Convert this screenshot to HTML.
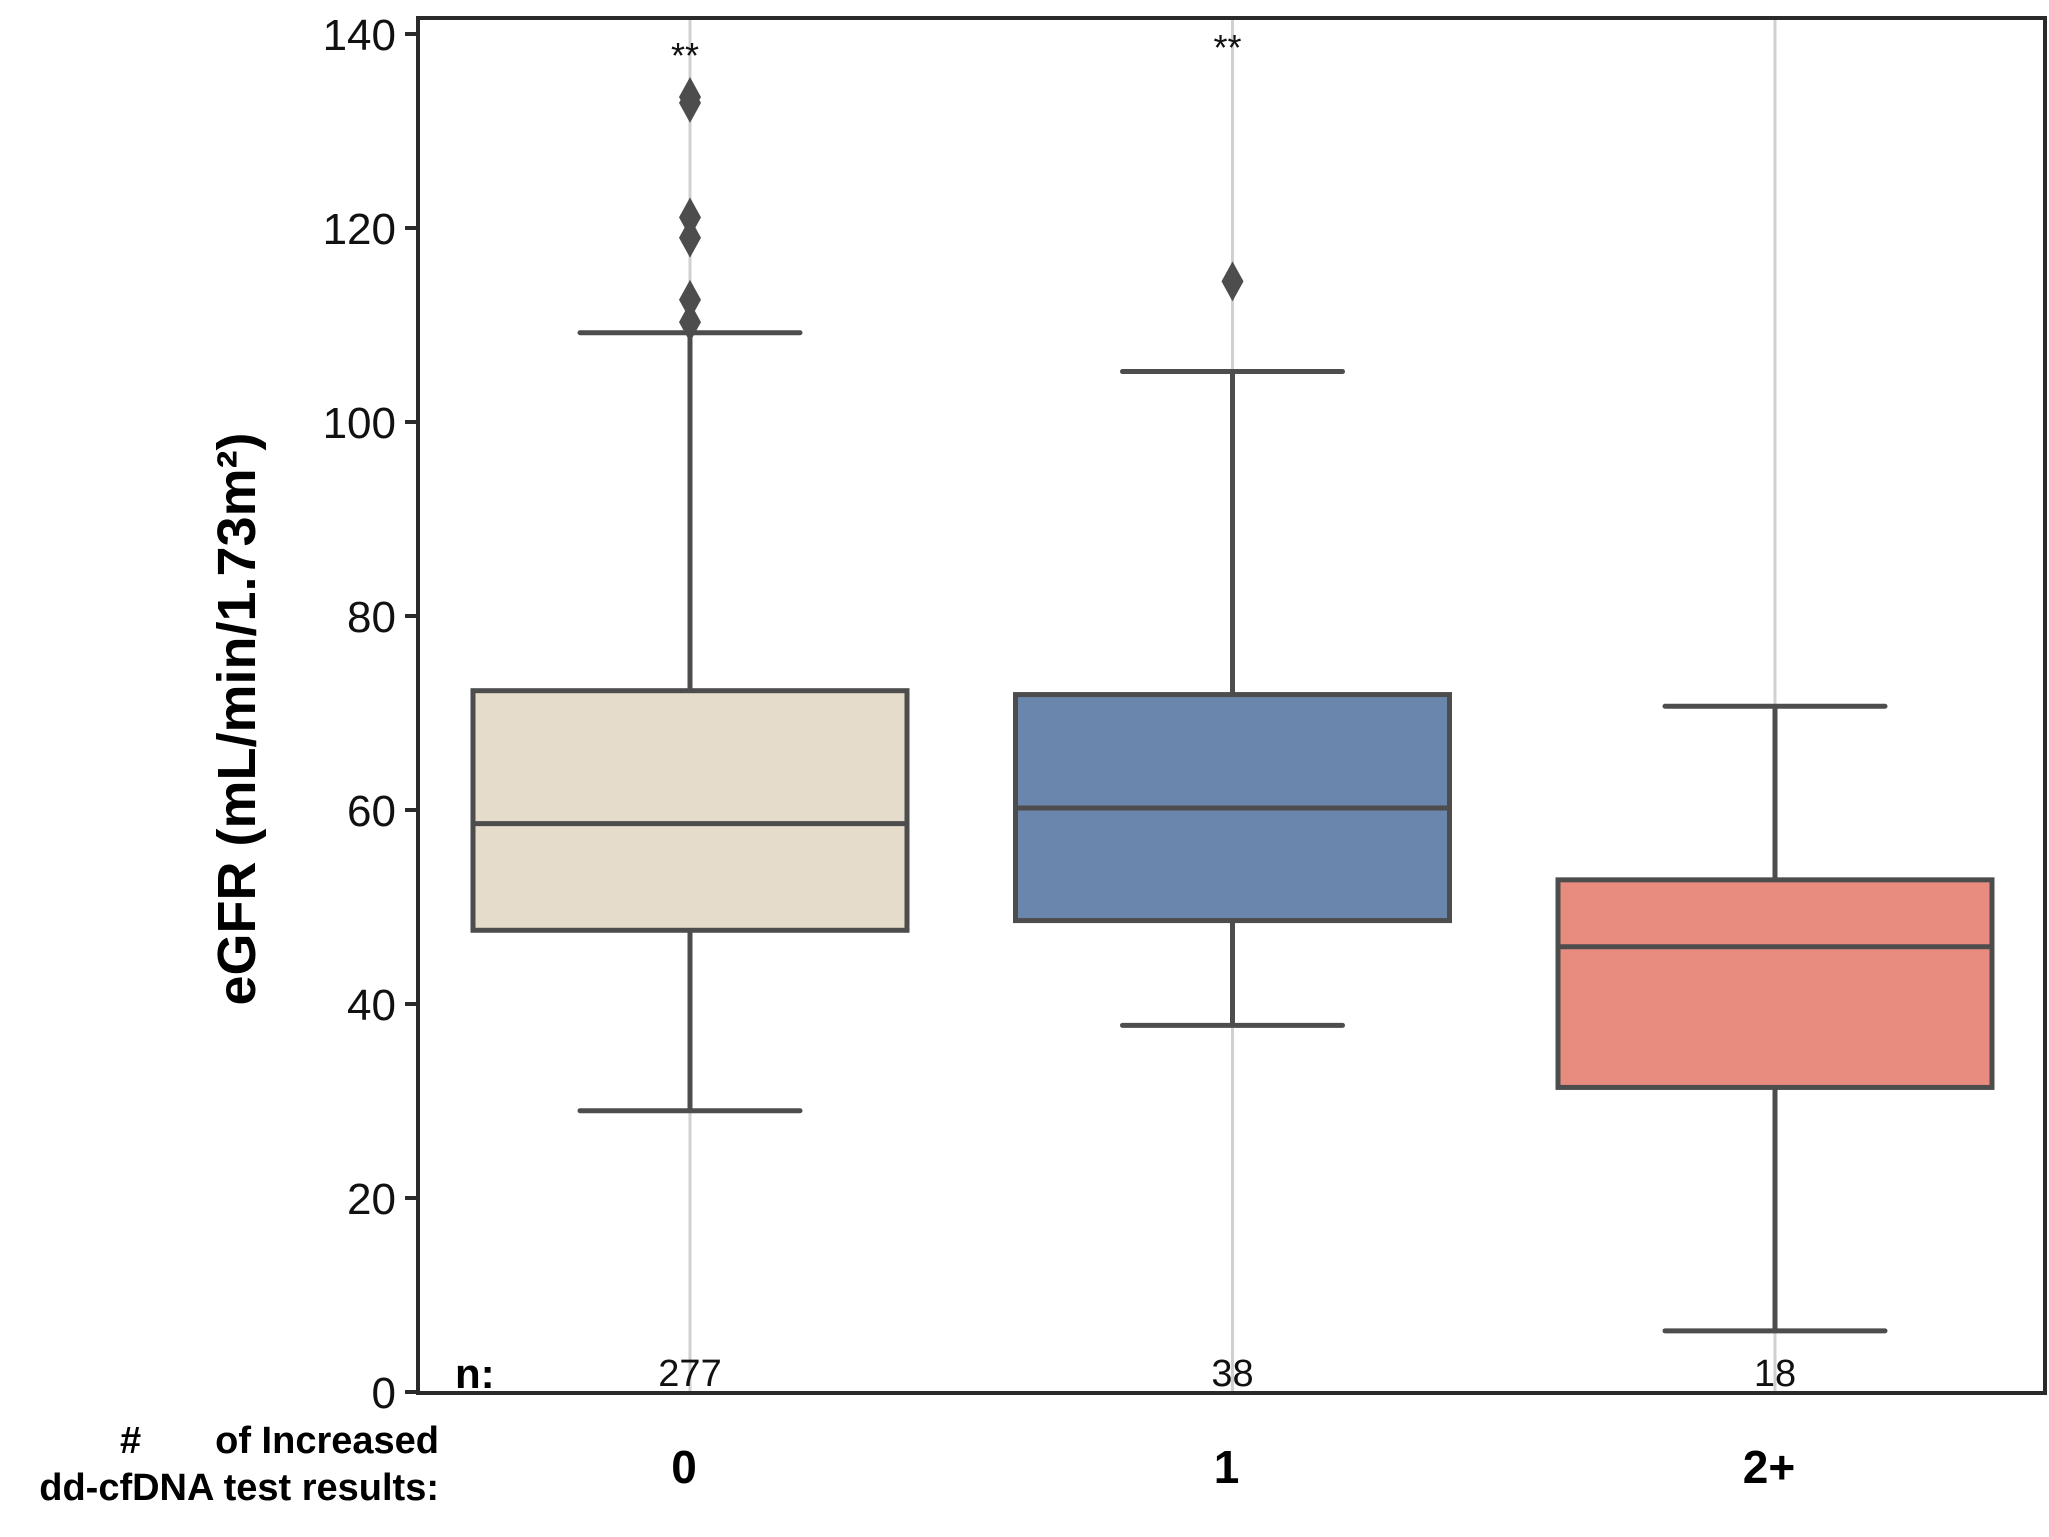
<!DOCTYPE html>
<html><head><meta charset="utf-8"><style>
html,body{margin:0;padding:0;background:#fff;}
svg{display:block;font-family:"Liberation Sans",sans-serif;}
</style></head><body>
<svg id="chart" width="2049" height="1537" viewBox="0 0 2049 1537">
<g id="grid"></g><g id="boxes"></g><g id="axes"></g><g id="labels"></g>
</svg>
<script>
const categories = ["0","1","2+"];
const counts = ["277","38","18"];
const q1 = [47.6, 48.6, 31.4];
const medians = [58.6, 60.2, 45.9];
const q3 = [72.3, 71.9, 52.8];
const whiskerLow = [29.0, 37.8, 6.3];
const whiskerHigh = [109.2, 105.2, 70.7];
const outliers0 = [133.5, 132.9, 121.1, 119.0, 112.6, 110.3];
const outliers1 = [114.5];
const outliers2 = [];
const yTicks = [0, 20, 40, 60, 80, 100, 120, 140];
const significance = ["**", "**", ""];
const colors = ["#e5dccb", "#6b86ad", "#e88c80"];

const NS = "http://www.w3.org/2000/svg";
const plotL = 418, plotR = 2045, plotT = 18, plotB = 1393;
const y0px = 1392, yPer = 9.7;
function yScale(v){ return y0px - v * yPer; }
function xScale(i){ return 690 + i * 542.5; }
const boxHalf = 217, capHalf = 110, line = "#4d4d4d";

function mk(tag, attrs, parent, text){
  const e = document.createElementNS(NS, tag);
  for (const k in attrs) e.setAttribute(k, attrs[k]);
  if (text !== undefined) e.textContent = text;
  parent.appendChild(e); return e;
}
const grid = document.getElementById("grid"), boxes = document.getElementById("boxes"),
      axes = document.getElementById("axes"), labels = document.getElementById("labels");

const allOut = [outliers0, outliers1, outliers2];
categories.forEach((c, i) => {
  const x = xScale(i);
  const g = mk("line", {x1:x, x2:x, y1:plotT, y2:plotB, stroke:"#d0d0d0", "stroke-width":3}, grid);
  
  
  const grp = mk("g", {}, boxes);
  
  
  const w1 = mk("line", {x1:x, x2:x, y1:yScale(q3[i]), y2:yScale(whiskerHigh[i]), stroke:line, "stroke-width":5}, grp);
  
  
  const w2 = mk("line", {x1:x, x2:x, y1:yScale(q1[i]), y2:yScale(whiskerLow[i]), stroke:line, "stroke-width":5}, grp);
  
  
  const c1 = mk("line", {x1:x-capHalf, x2:x+capHalf, y1:yScale(whiskerHigh[i]), y2:yScale(whiskerHigh[i]), stroke:line, "stroke-width":5, "stroke-linecap":"round"}, grp);
  
  
  const c2 = mk("line", {x1:x-capHalf, x2:x+capHalf, y1:yScale(whiskerLow[i]), y2:yScale(whiskerLow[i]), stroke:line, "stroke-width":5, "stroke-linecap":"round"}, grp);
  
  
  const r = mk("rect", {x:x-boxHalf, y:yScale(q3[i]), width:boxHalf*2, height:yScale(q1[i])-yScale(q3[i]), fill:colors[i], stroke:line, "stroke-width":5}, grp);
  
  
  const m = mk("line", {x1:x-boxHalf, x2:x+boxHalf, y1:yScale(medians[i]), y2:yScale(medians[i]), stroke:line, "stroke-width":5}, grp);
  
  
  allOut[i].forEach(v => {
    const y = yScale(v);
    const p = mk("polygon", {points:`${x},${y-20} ${x+11},${y} ${x},${y+20} ${x-11},${y}`, fill:line}, grp);
    
    
  });
  if (significance[i]) {
    const s = mk("text", {x:x-5, y: i===0 ? 68 : 60, "text-anchor":"middle", "font-size":36, fill:"#111"}, labels, significance[i]);
    
    
  }
  const n = mk("text", {x:x, y:1386, "text-anchor":"middle", "font-size":38, fill:"#111"}, labels, counts[i]);
  
  
  const cl = mk("text", {x:x-6, y:1483, "text-anchor":"middle", "font-size":46, "font-weight":"bold", fill:"#000"}, labels, categories[i]);
  
  
});

// frame
const fr = mk("rect", {x:plotL, y:plotT, width:plotR-plotL, height:plotB-plotT, fill:"none", stroke:"#2a2a2a", "stroke-width":4}, axes);


yTicks.forEach(t => {
  const y = yScale(t);
  const tk = mk("line", {x1:405, x2:418, y1:y, y2:y, stroke:"#2a2a2a", "stroke-width":4}, axes);
  
  
  const tl = mk("text", {x:396, y:y+16, "text-anchor":"end", "font-size":44, fill:"#111"}, axes, String(t));
  
  
});
</script>
<svg width="0" height="0" style="position:absolute"></svg>
<script>
(function(){
  const NS = "http://www.w3.org/2000/svg";
  const labels = document.getElementById("labels");
  function t(attrs, txt, name){
    const e = document.createElementNS(NS, "text");
    for (const k in attrs) e.setAttribute(k, attrs[k]);
    e.textContent = txt;
    
    
    labels.appendChild(e);
  }
  t({x:455, y:1388, "font-size":42, "font-weight":"bold", fill:"#000"}, "n:", "n-label");
  t({x:0, y:0, transform:"translate(255,719) rotate(-90)", "text-anchor":"middle", "font-size":54, "font-weight":"bold", fill:"#000"}, "eGFR (mL/min/1.73m²)", "y-axis-title");
  t({x:120, y:1453, "font-size":38, "font-weight":"bold", fill:"#000"}, "#", "x-title-hash");
  t({x:439, y:1453, "text-anchor":"end", "font-size":38, "font-weight":"bold", fill:"#000"}, "of Increased", "x-title-line1");
  t({x:439, y:1500, "text-anchor":"end", "font-size":38, "font-weight":"bold", fill:"#000"}, "dd-cfDNA test results:", "x-title-line2");
})();
</script>
</body></html>
